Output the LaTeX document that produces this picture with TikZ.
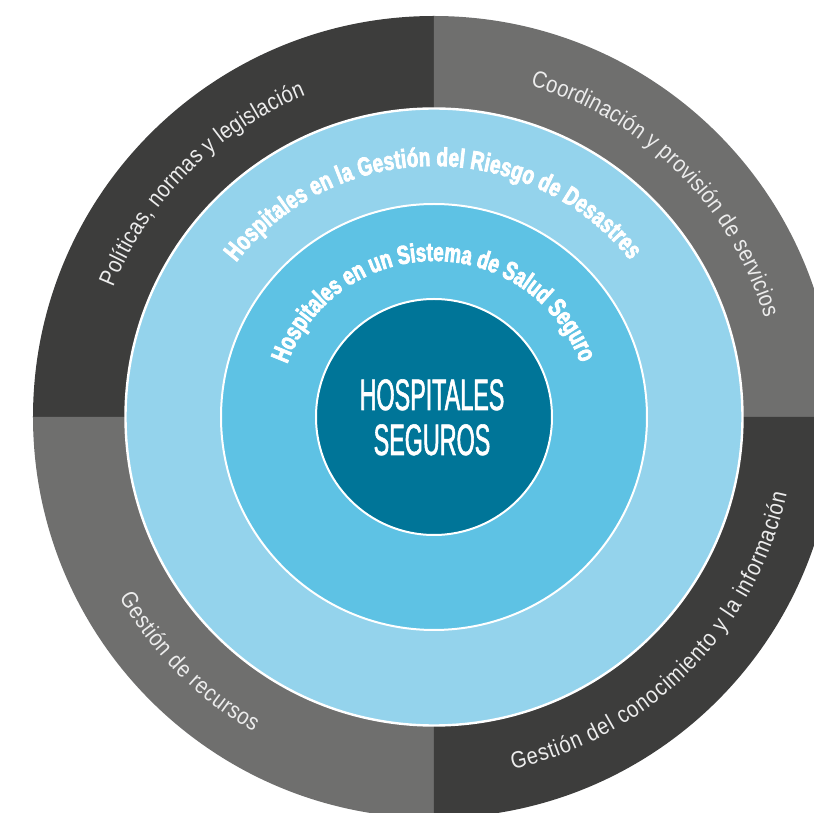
\documentclass[tikz,border=0pt]{standalone}
\usepackage{fontspec}
\usetikzlibrary{decorations.text}
\newfontfamily\centerfont{Liberation Sans}[FakeStretch=0.53, FakeBold=1.3]
\newfontfamily\innerfont{Liberation Sans}[FakeStretch=0.72, FakeBold=3]
\newfontfamily\outerfont{Liberation Sans}[FakeStretch=0.86]
\definecolor{greydark}{RGB}{61,61,60}
\definecolor{greymid}{RGB}{111,111,110}
\definecolor{bluelight}{RGB}{148,211,236}
\definecolor{bluemid}{RGB}{94,194,228}
\definecolor{tealdark}{RGB}{0,117,152}
\definecolor{outertext}{RGB}{236,236,236}
\tikzset{
  ringdisc/.style={draw=white, line width=2.4pt},
  innerlabel/.style={decorate, decoration={text along path, text align={fit to path}, text color=white, text={#1}}},
  outerlabel/.style={decorate, decoration={text along path, text align={fit to path}, text color=outertext, text={#1}}},
  centerlabel/.style={text=white, font=\centerfont\fontsize{44}{45}\selectfont, anchor=base, inner sep=0pt}
}
\begin{document}
\begin{tikzpicture}[x=1pt,y=1pt]
\useasboundingbox (-434,-396) rectangle (380,417);
\clip (-434,-396) rectangle (380,417);
% outer quadrants
\fill[greydark] (0,0) -- (90:401pt) arc[start angle=90, end angle=180, radius=401pt] -- cycle;
\fill[greymid] (0,0) -- (0:401pt) arc[start angle=0, end angle=90, radius=401pt] -- cycle;
\fill[greymid] (0,0) -- (180:401pt) arc[start angle=180, end angle=270, radius=401pt] -- cycle;
\fill[greydark] (0,0) -- (270:401pt) arc[start angle=270, end angle=360, radius=401pt] -- cycle;
% rings
\filldraw[ringdisc, fill=bluelight] (0,0) circle[radius=308.5pt];
\filldraw[ringdisc, fill=bluemid, line width=2pt] (0,0) circle[radius=213pt];
\filldraw[ringdisc, fill=tealdark, line width=2pt] (0,0) circle[radius=118pt];
% outer labels
{\outerfont\fontsize{23.5}{24}\selectfont
\path[outerlabel={Políticas, normas y legislación}] (158:346pt) arc[start angle=158, end angle=111.8, radius=346pt];
\path[outerlabel={Coordinación y provisión de servicios}] (73.8:345pt) arc[start angle=73.8, end angle=16.7, radius=345pt];
\path[outerlabel={Gestión de recursos}] (209.9:363pt) arc[start angle=209.9, end angle=240.2, radius=363pt];
\path[outerlabel={Gestión del conocimiento y la información}] (282.6:361pt) arc[start angle=282.6, end angle=347.7, radius=361pt];
}
% inner labels
{\innerfont\bfseries\fontsize{26}{26}\selectfont
\path[innerlabel={Hospitales en la Gestión del Riesgo de Desastres}] (142:251pt) arc[start angle=142, end angle=38.6, radius=251pt];
\path[innerlabel={Hospitales en un Sistema de Salud Seguro}] (160.2:156pt) arc[start angle=160.2, end angle=20.2, radius=156pt];
}
% centre
\node[centerlabel] (hosp) at (-2,7) {HOSPITALES};
\node[centerlabel] (seg) at (-2,-38) {SEGUROS};
\end{tikzpicture}
\end{document}
